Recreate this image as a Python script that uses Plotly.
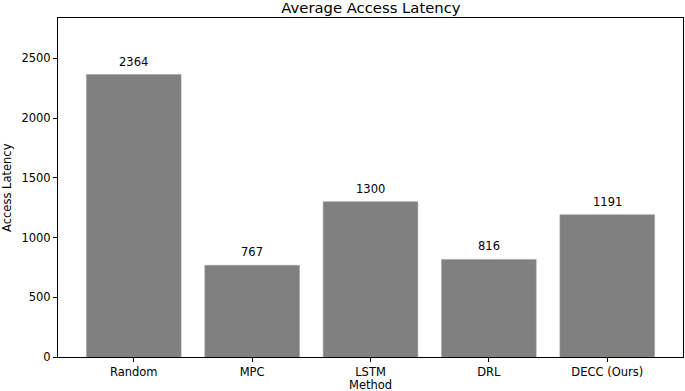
import plotly.graph_objects as go

methods = ["Random", "MPC", "LSTM", "DRL", "DECC (Ours)"]
latency = [2364, 767, 1300, 816, 1191]
y_ticks = [0, 500, 1000, 1500, 2000, 2500]

font = "DejaVu Sans"
fig = go.Figure()
fig.add_trace(go.Bar(
    x=list(range(len(methods))), y=latency, width=0.8,
    marker=dict(color="#808080", line=dict(color="#9a9a9a", width=0.5)),
    hoverinfo="skip", showlegend=False,
))
for i, v in enumerate(latency):
    fig.add_annotation(x=i, y=v, text=str(v), showarrow=False,
                       yanchor="bottom", yshift=4,
                       font=dict(family=font, size=11.5, color="black"))

# axis titles as annotations for exact placement
fig.add_annotation(text="Method", xref="paper", yref="paper", x=0.5, y=0,
                   xanchor="center", yanchor="top", yshift=-19, showarrow=False,
                   font=dict(family=font, size=11.5, color="black"))
fig.add_annotation(text="Access Latency", xref="paper", yref="paper", x=0, y=0.5,
                   xanchor="left", yanchor="middle", xshift=-59.5, textangle=-90,
                   borderpad=0, showarrow=False,
                   font=dict(family=font, size=11.5, color="black"))

axis_common = dict(showline=True, linecolor="black", linewidth=1, mirror=True,
                   ticks="outside", ticklen=4, tickcolor="black", tickwidth=1,
                   showgrid=False, zeroline=False, automargin=False,
                   tickfont=dict(family=font, size=11.5, color="black"))
fig.update_xaxes(range=[-0.64, 4.64], tickmode="array",
                 tickvals=list(range(len(methods))), ticktext=methods,
                 **axis_common)
fig.update_yaxes(range=[0, max(latency) * 1.2], tickmode="array",
                 tickvals=y_ticks, ticktext=[str(t) for t in y_ticks],
                 **axis_common)
fig.update_layout(
    width=685, height=391,
    margin=dict(l=58, r=2, t=18, b=34),
    paper_bgcolor="white", plot_bgcolor="white",
    title=dict(text="Average Access Latency", x=0.5415, xanchor="center",
               y=0.994, yanchor="top", yref="container", pad=dict(t=0, b=0),
               font=dict(family=font, size=14.8, color="black"),
               automargin=False),
)
fig.write_html("out.html", config={"displayModeBar": False},
               post_script="document.body.style.margin='0';document.body.style.overflow='hidden';")
